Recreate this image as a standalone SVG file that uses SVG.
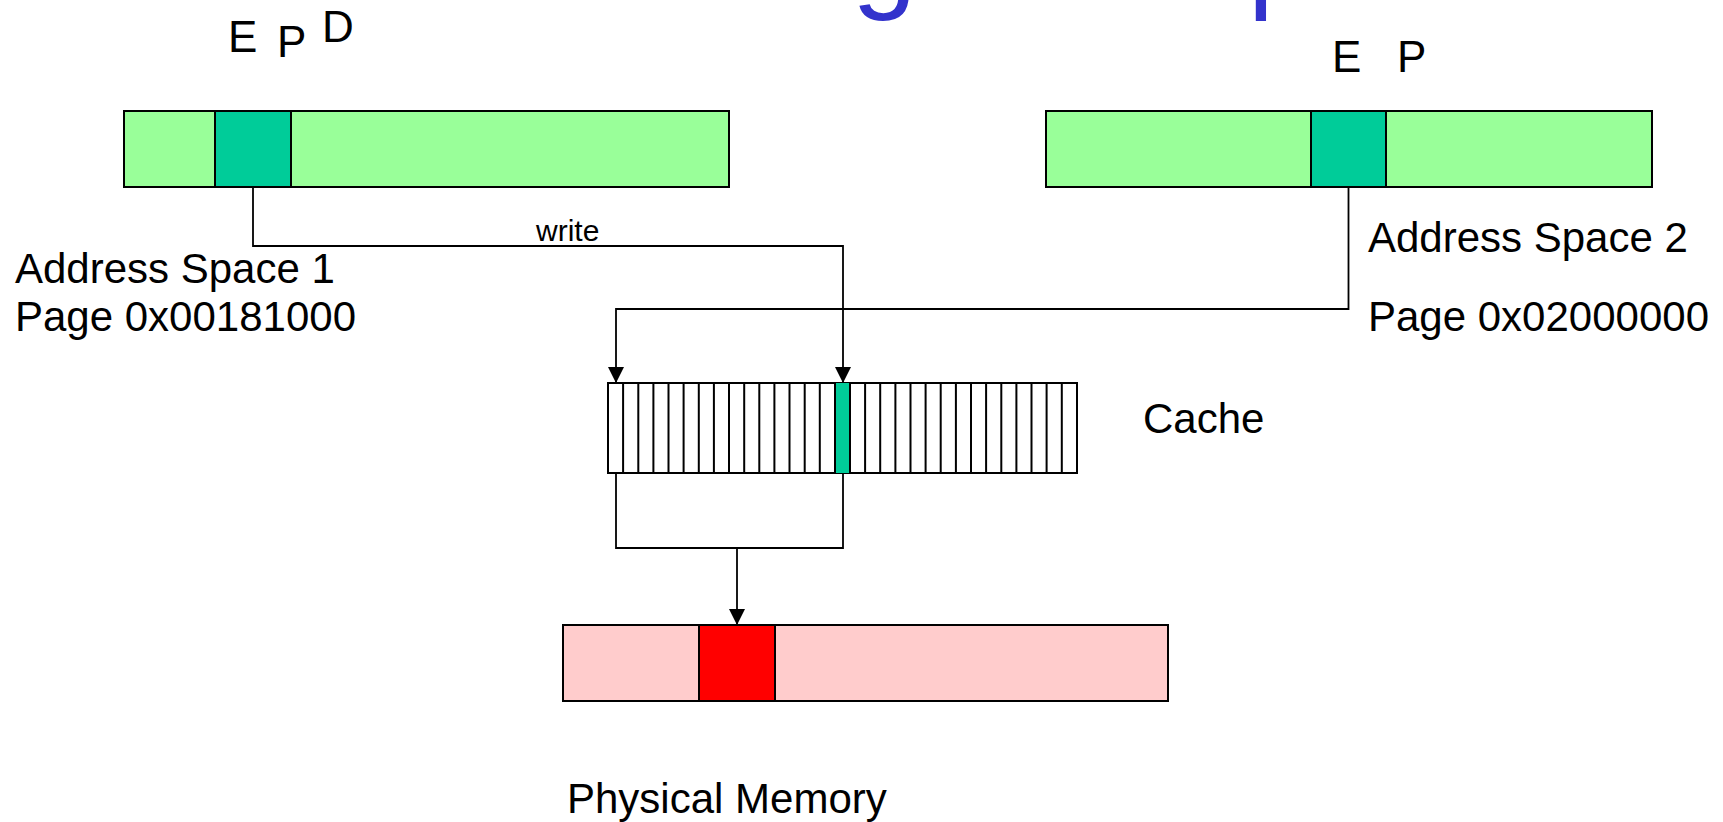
<svg xmlns="http://www.w3.org/2000/svg" width="1723" height="822" viewBox="0 0 1723 822">
<style>
text{font-family:"Liberation Sans",Arial,sans-serif;fill:#000}
.lbl{font-size:42px}
.flag{font-size:44px}
.title{font-size:116px;fill:#3333CC}
.bar{fill:#99FF99;stroke:#000;stroke-width:2}
.pg{fill:#00CC99;stroke:#000;stroke-width:2}
.mem{fill:#FFCCCC;stroke:#000;stroke-width:2}
.frame{fill:#FF0000;stroke:#000;stroke-width:2}
.cache{fill:#fff;stroke:#000;stroke-width:2}
.cell{stroke:#000;stroke-width:2}
.conn{fill:none;stroke:#000;stroke-width:1.8}
</style>
<defs>
<marker id="arr" markerUnits="userSpaceOnUse" markerWidth="16" markerHeight="16" refX="16" refY="8" orient="auto">
<path d="M0,0 L16,8 L0,16 z" fill="#000"/>
</marker>
</defs>
<g id="title">
<text class="title" x="852" y="-3">g</text>
<text class="title" x="1248" y="-3">p</text>
</g>
<g id="as1">
<rect class="bar" x="124" y="111" width="605" height="76"/>
<rect class="pg" x="215" y="111" width="76" height="76"/>
<text class="flag" x="228" y="52">E</text>
<text class="flag" x="277" y="57">P</text>
<text class="flag" x="322" y="42">D</text>
<text class="lbl" x="15" y="283">Address Space 1</text>
<text class="lbl" x="15" y="331">Page 0x00181000</text>
</g>
<g id="as2">
<rect class="bar" x="1046" y="111" width="606" height="76"/>
<rect class="pg" x="1311" y="111" width="75" height="76"/>
<text class="flag" x="1332" y="72">E</text>
<text class="flag" x="1397" y="72">P</text>
<text class="lbl" x="1368" y="252">Address Space 2</text>
<text class="lbl" x="1368" y="331">Page 0x02000000</text>
</g>
<g id="cache">
<rect class="cache" x="608" y="383" width="469" height="90"/>
<rect x="835" y="383" width="15" height="90" fill="#00CC99"/>
<path class="cell" d="M623.1 383V473M638.3 383V473M653.4 383V473M668.5 383V473M683.6 383V473M698.8 383V473M713.9 383V473M729 383V473M744.2 383V473M759.3 383V473M774.4 383V473M789.5 383V473M804.7 383V473M819.8 383V473M835 383V473M850 383V473M865.1 383V473M880.2 383V473M895.4 383V473M910.5 383V473M925.6 383V473M940.7 383V473M955.9 383V473M971 383V473M986.1 383V473M1001.3 383V473M1016.4 383V473M1031.5 383V473M1046.6 383V473M1061.8 383V473"/>
<text class="lbl" x="1143" y="433">Cache</text>
</g>
<g id="memory">
<rect class="mem" x="563" y="625" width="605" height="76"/>
<rect class="frame" x="699" y="625" width="76" height="76"/>
<text class="lbl" x="567" y="813">Physical Memory</text>
</g>
<g id="connectors">
<path class="conn" d="M253 187V246H843V383" marker-end="url(#arr)"/>
<text x="536" y="241" style="font-size:30px">write</text>
<path class="conn" d="M1348.5 187V309H616V383" marker-end="url(#arr)"/>
<path class="conn" d="M616 473V548H843V473"/>
<path class="conn" d="M737 548V625" marker-end="url(#arr)"/>
</g>
</svg>
